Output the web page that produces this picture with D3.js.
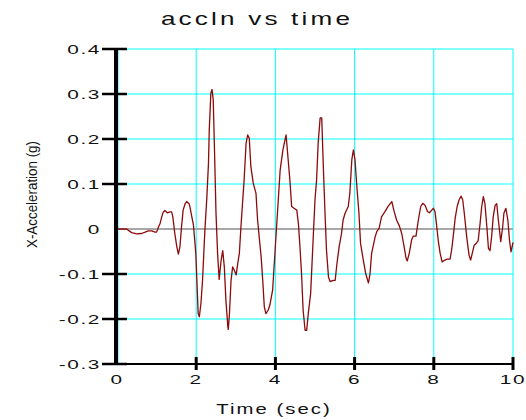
<!DOCTYPE html>
<html>
<head>
<meta charset="utf-8">
<script src="https://cdn.jsdelivr.net/npm/d3@7"></script>
<style>
  body { margin: 0; background: #fff; }
  svg { display: block; font-family: "Liberation Sans", Arial, sans-serif; }
</style>
</head>
<body>
<svg id="chart" width="526" height="420"></svg>
<script>
// accln vs time — x acceleration record

const timeSec = [
  0, 0.24, 0.37, 0.50, 0.62, 0.71, 0.79, 0.88, 0.96, 1.00,
  1.05, 1.09, 1.13, 1.17, 1.21, 1.27, 1.34, 1.38, 1.41, 1.46,
  1.51, 1.55, 1.59, 1.63, 1.67, 1.72, 1.76, 1.82, 1.84, 1.89,
  1.93, 1.99, 2.03, 2.05, 2.08, 2.12, 2.16, 2.22, 2.27, 2.31,
  2.33, 2.37, 2.40, 2.43, 2.46, 2.50, 2.54, 2.58, 2.63, 2.67,
  2.71, 2.75, 2.80, 2.81, 2.84, 2.88, 2.92, 2.96, 3.01, 3.05,
  3.09, 3.13, 3.17, 3.21, 3.26, 3.30, 3.34, 3.38, 3.44, 3.51,
  3.55, 3.59, 3.64, 3.68, 3.72, 3.76, 3.82, 3.86, 3.93, 4.03,
  4.12, 4.19, 4.27, 4.37, 4.41, 4.47, 4.54, 4.58, 4.62, 4.66,
  4.70, 4.75, 4.79, 4.83, 4.89, 4.96, 5.00, 5.04, 5.08, 5.13,
  5.17, 5.21, 5.25, 5.29, 5.34, 5.38, 5.46, 5.51, 5.55, 5.61,
  5.67, 5.71, 5.76, 5.84, 5.88, 5.93, 5.97, 6.01, 6.05, 6.11,
  6.15, 6.22, 6.28, 6.35, 6.39, 6.43, 6.52, 6.56, 6.62, 6.68,
  6.77, 6.85, 6.94, 6.99, 7.06, 7.13, 7.19, 7.25, 7.30, 7.33,
  7.38, 7.44, 7.48, 7.55, 7.61, 7.67, 7.72, 7.78, 7.84, 7.89,
  7.95, 7.99, 8.03, 8.07, 8.11, 8.16, 8.21, 8.28, 8.34, 8.41,
  8.45, 8.49, 8.54, 8.59, 8.64, 8.69, 8.73, 8.77, 8.83, 8.89,
  8.93, 8.98, 9.02, 9.08, 9.12, 9.17, 9.21, 9.25, 9.29, 9.34,
  9.38, 9.42, 9.46, 9.50, 9.55, 9.59, 9.63, 9.69, 9.74, 9.77,
  9.82, 9.87, 9.91, 9.95, 10.0
];

const accelG = [
  0, 0, -0.008, -0.011, -0.010, -0.007, -0.004, -0.004, -0.007, -0.007,
  0.005, 0.013, 0.027, 0.038, 0.041, 0.036, 0.038, 0.038, 0.027, -0.010,
  -0.039, -0.056, -0.039, 0.005, 0.042, 0.056, 0.061, 0.056, 0.050, 0.027,
  0.009, -0.054, -0.143, -0.188, -0.195, -0.165, -0.114, -0.002, 0.072, 0.146,
  0.220, 0.302, 0.310, 0.287, 0.183, 0.035, -0.054, -0.112, -0.069, -0.048,
  -0.084, -0.158, -0.218, -0.223, -0.188, -0.114, -0.084, -0.091, -0.102, -0.076,
  -0.054, 0.005, 0.057, 0.109, 0.191, 0.209, 0.202, 0.139, 0.102, 0.079,
  0.020, -0.017, -0.062, -0.114, -0.173, -0.188, -0.180, -0.169, -0.136, 0.005,
  0.131, 0.176, 0.209, 0.104, 0.050, 0.046, 0.042, 0.013, -0.039, -0.099,
  -0.180, -0.225, -0.225, -0.188, -0.143, -0.010, 0.065, 0.109, 0.191, 0.247,
  0.247, 0.139, 0.042, -0.047, -0.106, -0.117, -0.114, -0.114, -0.080, -0.039,
  -0.010, 0.020, 0.035, 0.050, 0.080, 0.154, 0.176, 0.154, 0.102, 0.035,
  -0.032, -0.069, -0.099, -0.120, -0.099, -0.054, -0.017, -0.006, 0.002, 0.027,
  0.039, 0.051, 0.061, 0.042, 0.020, 0.007, -0.010, -0.039, -0.065, -0.071,
  -0.054, -0.024, -0.016, -0.016, 0.020, 0.050, 0.057, 0.053, 0.039, 0.036,
  0.042, 0.046, 0.039, 0.009, -0.024, -0.054, -0.073, -0.069, -0.067, -0.067,
  -0.047, -0.017, 0.024, 0.050, 0.065, 0.073, 0.065, 0.035, -0.017, -0.058,
  -0.069, -0.051, -0.036, -0.031, -0.026, 0.013, 0.050, 0.072, 0.057, 0.005,
  -0.043, -0.048, -0.017, 0.027, 0.053, 0.056, 0.020, -0.028, 0.005, 0.035,
  0.046, 0.020, -0.024, -0.051, -0.030
];

const xTicks = [0, 2, 4, 6, 8, 10];
const xTickLabels = ["0", "2", "4", "6", "8", "10"];
const yTicks = [0.4, 0.3, 0.2, 0.1, 0, -0.1, -0.2, -0.3];
const yTickLabels = ["0.4", "0.3", "0.2", "0.1", "0", "-0.1", "-0.2", "-0.3"];

const svg = d3.select("#chart");

// scales
const x = d3.scaleLinear().domain([0, 10]).range([117, 513]);
const y = d3.scaleLinear().domain([-0.3, 0.4]).range([364, 49]);

// stretched text, the original uses wide glyphs
function wideText(tx, ty, str, size, anchor, sx) {
  return svg.append("text")
    .attr("transform", `translate(${tx},${ty}) scale(${sx},1)`)
    .attr("text-anchor", anchor)
    .attr("font-size", size + "px")
    .attr("fill", "#111")
    .text(str);
}

// grid
const grid = svg.append("g");
grid.selectAll(".hgrid")
  .data(yTicks.filter(v => v !== 0 && v !== -0.3))
  .enter().append("line")
  .attr("x1", x(0)).attr("x2", x(10))
  .attr("y1", d => y(d)).attr("y2", d => y(d))
  .attr("stroke", "#00ffff").attr("stroke-width", 1);

grid.selectAll(".vgrid")
  .data(xTicks)
  .enter().append("line")
  .attr("x1", d => x(d) + (d === 0 ? 1 : 0)).attr("x2", d => x(d) + (d === 0 ? 1 : 0))
  .attr("y1", y(0.4)).attr("y2", y(-0.3))
  .attr("stroke", "#00ffff").attr("stroke-width", 1);

// zero line
svg.append("line")
  .attr("x1", x(0)).attr("x2", x(10))
  .attr("y1", y(0)).attr("y2", y(0))
  .attr("stroke", "#a8a8a8").attr("stroke-width", 2);

// signal
const pts = timeSec.map((t, i) => [t, accelG[i]]);
const line = d3.line().x(d => x(d[0])).y(d => y(d[1]));

svg.append("path")
  .datum(pts)
  .attr("d", line)
  .attr("fill", "none")
  .attr("stroke", "#8b0a0a")
  .attr("stroke-width", 1.3)
  .attr("stroke-linejoin", "round");

// x axis
svg.append("line")
  .attr("x1", x(0) - 2).attr("x2", x(10))
  .attr("y1", y(-0.3)).attr("y2", y(-0.3))
  .attr("stroke", "#000").attr("stroke-width", 2);

svg.selectAll(".xtick")
  .data(xTicks.filter(d => d !== 0))
  .enter().append("line")
  .attr("x1", d => x(d)).attr("x2", d => x(d))
  .attr("y1", y(-0.3) - 7).attr("y2", y(-0.3) + 6)
  .attr("stroke", "#000").attr("stroke-width", 3);

// y axis
svg.append("line")
  .attr("x1", x(0) - 1).attr("x2", x(0) - 1)
  .attr("y1", y(0.4) - 1).attr("y2", y(-0.3) + 1)
  .attr("stroke", "#000").attr("stroke-width", 4);

svg.selectAll(".ytick")
  .data(yTicks.filter(d => d !== 0))
  .enter().append("line")
  .attr("x1", 102).attr("x2", 127)
  .attr("y1", d => y(d)).attr("y2", d => y(d))
  .attr("stroke", "#000").attr("stroke-width", 2.5);

// tick labels
yTicks.forEach((v, i) => {
  wideText(101, y(v) + 5, yTickLabels[i], 13, "end", 1.6)
    .attr("letter-spacing", "1px");
});
xTicks.forEach((v, i) => {
  wideText(x(v), 384, xTickLabels[i], 13, "middle", 1.6)
    .attr("letter-spacing", "1px");
});

// titles
wideText(257, 25, "accln vs time", 18, "middle", 1.45)
  .attr("letter-spacing", "2.2px");

wideText(274, 414, "Time (sec)", 14, "middle", 1.45)
  .attr("letter-spacing", "1.4px");

svg.append("text")
  .attr("transform", "translate(37,248) rotate(-90)")
  .attr("font-size", "15px")
  .attr("textLength", 107)
  .attr("lengthAdjust", "spacingAndGlyphs")
  .attr("fill", "#111")
  .text("X-Acceleration (g)");
</script>
</body>
</html>
